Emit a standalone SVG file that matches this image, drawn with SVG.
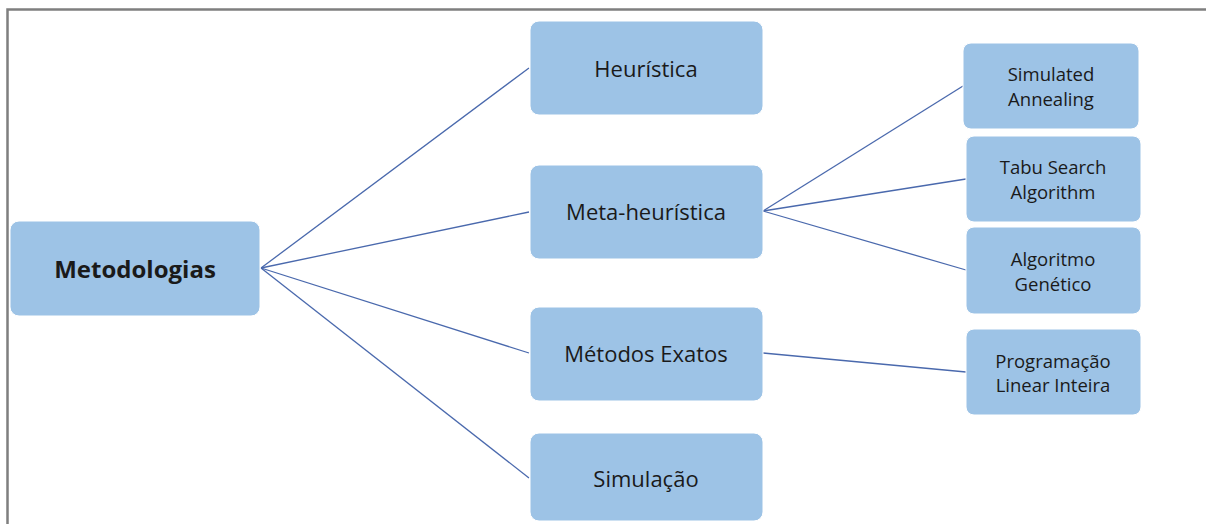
<svg xmlns="http://www.w3.org/2000/svg" width="1206" height="524" viewBox="0 0 1206 524">
<style>
.box{fill:#9dc3e6;stroke:#ffffff;stroke-width:1}
.t{font-family:"Open Sans","Liberation Sans",sans-serif;fill:#1a1a1a;text-anchor:middle;dominant-baseline:central}
.big{font-size:22px}
.sm{font-size:18.5px}
.conn line{stroke:#4a69ad;stroke-width:1.3}
</style>
<rect x="0" y="0" width="1206" height="524" fill="#ffffff"/>
<path d="M7.5 524 V9.5 H1206" fill="none" stroke="#7f7f7f" stroke-width="2.5"/>
<g id="connectors" class="conn">
<line x1="261" y1="268" x2="529" y2="68"/>
<line x1="261" y1="268" x2="529" y2="212"/>
<line x1="261" y1="268" x2="529" y2="353"/>
<line x1="261" y1="268" x2="529" y2="478"/>
<line x1="763" y1="211" x2="963" y2="86"/>
<line x1="763" y1="211" x2="966" y2="179"/>
<line x1="763" y1="211" x2="966" y2="270"/>
<line x1="763" y1="353" x2="966" y2="372"/>
</g>
<g id="metodologias"><rect class="box" x="10" y="221" width="250" height="95" rx="9"/><text class="t" x="135" y="268" font-size="24" font-weight="bold">Metodologias</text></g>
<g id="heuristica"><rect class="box" x="530" y="21" width="233" height="94" rx="9"/><text class="t big" x="646" y="68">Heurística</text></g>
<g id="meta"><rect class="box" x="530" y="165" width="233" height="94" rx="9"/><text class="t big" x="646" y="211">Meta-heurística</text></g>
<g id="exatos"><rect class="box" x="530" y="307" width="233" height="94" rx="9"/><text class="t big" x="646" y="353">Métodos Exatos</text></g>
<g id="simulacao"><rect class="box" x="530" y="433" width="233" height="88" rx="9"/><text class="t big" x="646" y="478">Simulação</text></g>
<g id="sa"><rect class="box" x="963" y="43" width="176" height="86" rx="8"/><text class="t sm" x="1051" y="73">Simulated</text><text class="t sm" x="1051" y="98">Annealing</text></g>
<g id="tabu"><rect class="box" x="966" y="136" width="175" height="86" rx="8"/><text class="t sm" x="1053" y="166">Tabu Search</text><text class="t sm" x="1053" y="191">Algorithm</text></g>
<g id="ag"><rect class="box" x="966" y="227" width="175" height="87" rx="8"/><text class="t sm" x="1053" y="258">Algoritmo</text><text class="t sm" x="1053" y="283">Genético</text></g>
<g id="pli"><rect class="box" x="966" y="329" width="175" height="86" rx="8"/><text class="t sm" x="1053" y="360">Programação</text><text class="t sm" x="1053" y="384">Linear Inteira</text></g>
</svg>
